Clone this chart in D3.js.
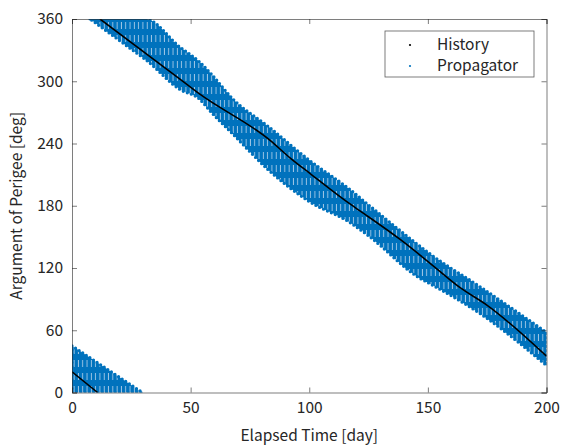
<!DOCTYPE html>
<html>
<head>
<meta charset="utf-8">
<script src="https://cdn.jsdelivr.net/npm/d3@7"></script>
<style>
  body { margin: 0; background: #fff; }
  text { font-family: "Noto Sans CJK JP", "Noto Sans", sans-serif; fill: #262626; }
</style>
</head>
<body>
<div id="graph"></div>
<script>
// History (black) - two branches because the angle wraps at 0/360
const histDays1 = [0, 10.8];
const histDeg1 = [20, 0];
const histDays2 = [11.8, 45.5, 53.6, 83.5, 92, 100.4, 117, 121.4, 138.6, 150.7, 163.6, 175, 200];
const histDeg2 = [360, 302, 288, 243, 226, 211, 182, 175, 147, 125, 101, 84, 35];

// Propagator (blue) - envelope of the oscillating band
const propDays = [7.6, 27.3, 30.9, 45.5, 53.6, 58.7, 67.8, 83, 100, 117, 124.4, 146.7, 150.7, 172, 200];
const propUpper = [360, 360, 360, 333, 319, 307, 283, 256, 224, 196, 182, 141, 134, 102, 58];
const propLower = [360, 327, 321, 292, 283, 270, 249, 214, 184, 164, 152, 110, 105, 76, 26];
// wrapped part of the band near the origin
const propDays0 = [0, 29.7];
const propUpper0 = [45, 0];
const propLower0 = [0, 0];

const xTicks = [0, 50, 100, 150, 200];
const yTicks = [0, 60, 120, 180, 240, 300, 360];
const seriesNames = ["History", "Propagator"];

const W = 565, H = 445;
const margin = { top: 19, right: 18.5, bottom: 52.5, left: 72 };
const width = W - margin.left - margin.right,
  height = H - margin.top - margin.bottom;

const blue = "#0072BD";

const svg = d3.select("#graph").append("svg")
  .attr("width", W).attr("height", H);

const defs = svg.append("defs");
defs.append("clipPath").attr("id", "plotclip")
  .append("rect").attr("width", width).attr("height", height);

// texture for the dense marker band (light gaps between dots)
const pat = defs.append("pattern")
  .attr("id", "band")
  .attr("patternUnits", "userSpaceOnUse")
  .attr("width", 4.3).attr("height", 13);
pat.append("rect").attr("width", 4.3).attr("height", 13).attr("fill", blue);
pat.append("line")
  .attr("x1", 2.1).attr("x2", 2.1).attr("y1", 3).attr("y2", 10)
  .attr("stroke", "#a9cbe8").attr("stroke-width", 0.9);

const g = svg.append("g")
  .attr("transform", `translate(${margin.left},${margin.top})`);

const x = d3.scaleLinear().domain([0, 200]).range([0, width]);
const y = d3.scaleLinear().domain([0, 360]).range([height, 0]);

const plot = g.append("g").attr("clip-path", "url(#plotclip)");

const area = d3.area()
  .curve(d3.curveMonotoneX)
  .x((d) => x(d[0]))
  .y0((d) => y(d[1]))
  .y1((d) => y(d[2]));

const bands = [
  d3.zip(propDays0, propLower0, propUpper0),
  d3.zip(propDays, propLower, propUpper),
];

plot.selectAll(".band")
  .data(bands)
  .enter()
  .append("path")
  .attr("class", "band")
  .attr("d", area)
  .attr("fill", "url(#band)")
  .attr("stroke", blue)
  .attr("stroke-width", 3.2)
  .attr("stroke-linecap", "round")
  .attr("stroke-dasharray", "0 4.3");

// history line
const line = d3.line().curve(d3.curveMonotoneX).x((d) => x(d[0])).y((d) => y(d[1]));
plot.selectAll(".hist")
  .data([d3.zip(histDays1, histDeg1), d3.zip(histDays2, histDeg2)])
  .enter()
  .append("path")
  .attr("class", "hist")
  .attr("d", line)
  .attr("fill", "none")
  .attr("stroke", "#000")
  .attr("stroke-width", 1.6);

// axes (box with inward ticks)
const axisColor = "#262626";
const tk = 5;
const xb = g.append("g").attr("transform", `translate(0,${height})`)
  .call(d3.axisBottom(x).tickValues(xTicks).tickSize(-tk).tickPadding(9));
const xt = g.append("g")
  .call(d3.axisTop(x).tickValues(xTicks).tickSize(-tk).tickFormat(""));
const yl = g.append("g")
  .call(d3.axisLeft(y).tickValues(yTicks).tickSize(-tk).tickPadding(9));
const yr = g.append("g").attr("transform", `translate(${width},0)`)
  .call(d3.axisRight(y).tickValues(yTicks).tickSize(-tk).tickFormat(""));

[xb, xt, yl, yr].forEach((a) => {
  a.select(".domain").attr("stroke", axisColor).attr("stroke-width", 0.8).attr("opacity", 0.75);
  a.selectAll(".tick line").attr("stroke", axisColor).attr("stroke-width", 0.8).attr("opacity", 0.75);
  a.selectAll(".tick text").style("font-size", "15.5px").attr("fill", axisColor);
});

// axis labels
g.append("text")
  .attr("x", width / 2).attr("y", height + 48)
  .attr("text-anchor", "middle")
  .style("font-size", "15.5px")
  .text("Elapsed Time [day]");

g.append("text")
  .attr("transform", `translate(${-50},${height / 2}) rotate(-90)`)
  .attr("text-anchor", "middle")
  .style("font-size", "15.5px")
  .text("Argument of Perigee [deg]");

// legend
const leg = g.append("g").attr("transform", `translate(${385 - margin.left},${31 - margin.top})`);
leg.append("rect")
  .attr("width", 149).attr("height", 46)
  .attr("fill", "#fff")
  .attr("stroke", axisColor).attr("stroke-opacity", 0.75).attr("stroke-width", 0.8);

leg.selectAll(".li")
  .data(seriesNames)
  .enter()
  .append("g")
  .attr("transform", (d, i) => `translate(0,${14 + i * 21})`)
  .each(function (d, i) {
    const s = d3.select(this);
    s.append("circle").attr("cx", 25).attr("cy", 0).attr("r", 1.1)
      .attr("fill", i === 0 ? "#000" : blue);
    s.append("text").attr("x", 52).attr("y", 0).attr("dy", "0.35em")
      .style("font-size", "15.5px").text(d);
  });
</script>
</body>
</html>
